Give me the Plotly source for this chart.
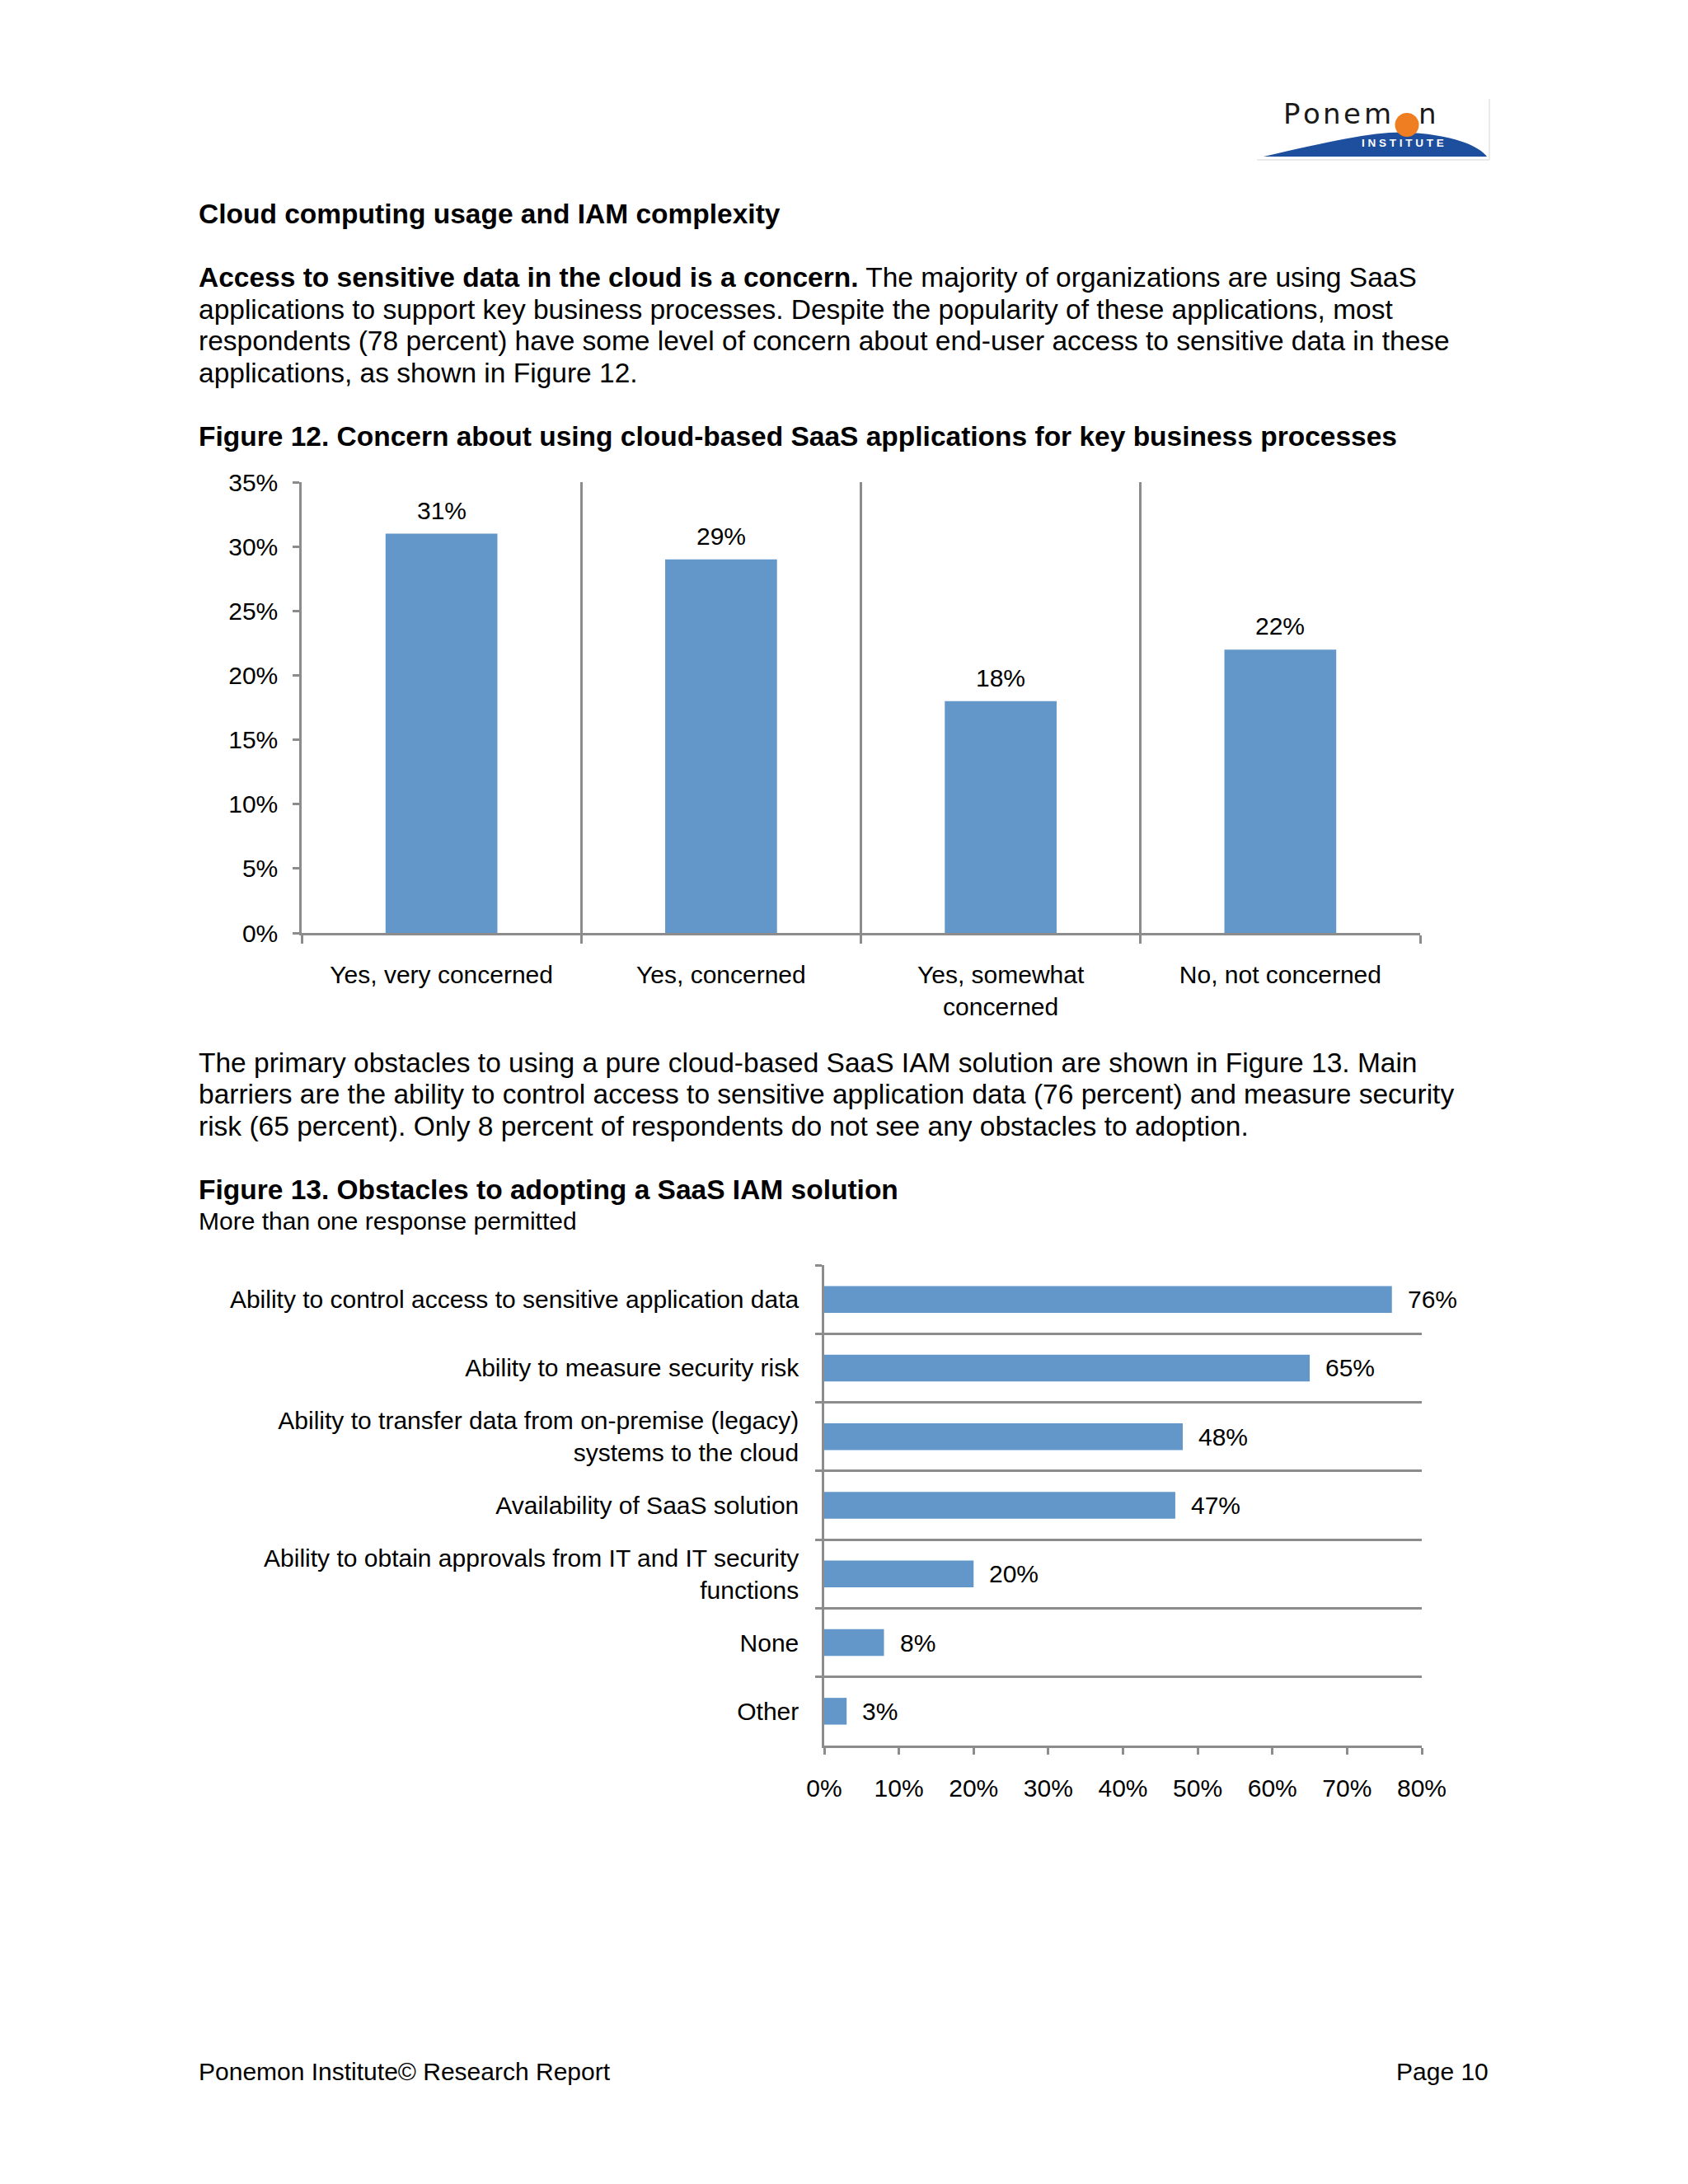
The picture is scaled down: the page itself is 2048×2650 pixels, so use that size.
import plotly.graph_objects as go

# ---------------- data ----------------
concern_cats = ["Yes, very concerned", "Yes, concerned", "Yes, somewhat<br>concerned", "No, not concerned"]
concern_vals = [31, 29, 18, 22]

obstacle_cats = [
    "Ability to control access to sensitive application data",
    "Ability to measure security risk",
    "Ability to transfer data from on-premise (legacy)<br>systems to the cloud",
    "Availability of SaaS solution",
    "Ability to obtain approvals from IT and IT security<br>functions",
    "None",
    "Other",
]
obstacle_vals = [76, 65, 48, 47, 20, 8, 3]

heading = "Cloud computing usage and IAM complexity"
para1 = [
    "<b>Access to sensitive data in the cloud is a concern.</b> The majority of organizations are using SaaS",
    "applications to support key business processes. Despite the popularity of these applications, most",
    "respondents (78 percent) have some level of concern about end-user access to sensitive data in these",
    "applications, as shown in Figure 12.",
]
fig12_title = "<b>Figure 12. Concern about using cloud-based SaaS applications for key business processes</b>"
para2 = [
    "The primary obstacles to using a pure cloud-based SaaS IAM solution are shown in Figure 13. Main",
    "barriers are the ability to control access to sensitive application data (76 percent) and measure security",
    "risk (65 percent). Only 8 percent of respondents do not see any obstacles to adoption.",
]
fig13_title = "<b>Figure 13. Obstacles to adopting a SaaS IAM solution</b>"
fig13_sub = "More than one response permitted"
footer_left = "Ponemon Institute© Research Report"
footer_right = "Page 10"
logo_word = ["P", "o", "n", "e", "m"]

# ---------------- style ----------------
W, H = 2048, 2650
FONT = "Liberation Sans, Arial, sans-serif"
LOGO_FONT = "DejaVu Sans, Verdana, sans-serif"
BAR = "#6397C9"
GRID = "#8C8C8C"
BODY = 33.5
CHART = 30


def px(x):
    return x / W


def py(y):
    return 1 - y / H


fig = go.Figure()

fig.add_trace(go.Bar(x=concern_cats, y=concern_vals, marker_color=BAR, width=0.4,
                     xaxis="x", yaxis="y", hoverinfo="skip"))
fig.add_trace(go.Bar(x=obstacle_vals, y=obstacle_cats, orientation="h", marker_color=BAR,
                     width=0.39, xaxis="x2", yaxis="y2", hoverinfo="skip"))

axis_common = dict(linecolor=GRID, linewidth=2.5, tickcolor=GRID, tickwidth=2.5,
                   tickfont=dict(family=FONT, size=CHART, color="#000"), zeroline=False,
                   automargin=False)

fig.update_layout(
    template="none",
    width=W, height=H, autosize=False, margin=dict(l=0, r=0, t=0, b=0, pad=0),
    paper_bgcolor="white", plot_bgcolor="white", showlegend=False,
    font=dict(family=FONT, color="#000"),
    xaxis=dict(domain=[px(366), px(1723)], anchor="y", type="category",
               categoryorder="array", categoryarray=concern_cats,
               tickson="boundaries", ticks="outside", ticklen=10,
               showgrid=True, gridcolor=GRID, gridwidth=2.5,
               showline=True, ticklabelstandoff=22, **axis_common),
    yaxis=dict(domain=[py(1132), py(585)], anchor="x", range=[0, 35], dtick=5,
               ticksuffix="%", ticks="outside", ticklen=8, showgrid=False,
               showline=True, ticklabelstandoff=12, **axis_common),
    xaxis2=dict(domain=[px(1000), px(1725)], anchor="y2", range=[0, 80], dtick=10,
                ticksuffix="%", ticks="outside", ticklen=8, showgrid=False,
                showline=True, ticklabelstandoff=15, **axis_common),
    yaxis2=dict(domain=[py(2118), py(1535)], anchor="x2", type="category",
                categoryorder="array", categoryarray=obstacle_cats, autorange="reversed",
                tickson="boundaries", ticks="outside", ticklen=8,
                showgrid=True, gridcolor=GRID, gridwidth=2.5,
                showline=True, ticklabelstandoff=22, **axis_common),
)

ann = []
for c, v in zip(concern_cats, concern_vals):
    ann.append(dict(x=c, y=v, xref="x", yref="y", text=f"{v}%", showarrow=False,
                    yanchor="bottom", yshift=10, font=dict(family=FONT, size=CHART, color="#000")))
for c, v in zip(obstacle_cats, obstacle_vals):
    ann.append(dict(x=v, y=c, xref="x2", yref="y2", text=f"{v}%", showarrow=False,
                    xanchor="left", xshift=17, font=dict(family=FONT, size=CHART, color="#000")))


def text(x, y, s, size=BODY, anchor="left", color="#000", family=FONT):
    ann.append(dict(x=px(x), y=py(y), xref="paper", yref="paper", text=s, showarrow=False,
                    xanchor=anchor, yanchor="middle", font=dict(family=family, size=size, color=color)))


text(239, 260, f"<b>{heading}</b>")
for i, line in enumerate(para1):
    text(239, 337 + i * 38.4, line)
text(239, 529, fig12_title)
for i, line in enumerate(para2):
    text(239, 1289 + i * 38.6, line)
text(239, 1444, fig13_title)
text(239, 1481, fig13_sub, size=CHART)
text(239, 2513, footer_left, size=CHART)
text(1808, 2513, footer_right, size=CHART, anchor="right")

# ---------------- logo ----------------
shapes = []


def path_px(pts):
    s = f"M {px(pts[0][0])},{py(pts[0][1])} "
    s += "C " + " ".join(f"{px(a)},{py(b)}" for a, b in pts[1:4]) + " "
    s += "C " + " ".join(f"{px(a)},{py(b)}" for a, b in pts[4:7]) + " Z"
    return s


shapes.append(dict(type="path", xref="paper", yref="paper",
                   path=path_px([(1533, 190), (1620, 170), (1675, 158), (1712, 161),
                                 (1760, 164), (1792, 175), (1804, 190)]),
                   fillcolor="#1E4E9E", line=dict(width=0), layer="below"))
shapes.append(dict(type="circle", xref="paper", yref="paper",
                   x0=px(1692.5), x1=px(1721.5), y0=py(166), y1=py(137),
                   fillcolor="#EF7D22", line=dict(width=0)))
shapes.append(dict(type="line", xref="paper", yref="paper", x0=px(1525), x1=px(1807),
                   y0=py(194), y1=py(194), line=dict(color="#E3E3E3", width=1.5)))
shapes.append(dict(type="line", xref="paper", yref="paper", x0=px(1807), x1=px(1807),
                   y0=py(120), y1=py(194), line=dict(color="#E3E3E3", width=1.5)))

LOGO = 34
letter_w = {"P": 0.603, "o": 0.612, "n": 0.634, "e": 0.615, "m": 0.974}
lx = 1555
for ch in logo_word:
    text(lx, 138, ch, size=LOGO, anchor="left", color="#1A1A1A", family=LOGO_FONT)
    lx += letter_w[ch] * LOGO + 3.5
text(1719, 138, "n", size=LOGO, anchor="left", color="#1A1A1A", family=LOGO_FONT)
text(1701.5, 173.5, "<b>I N S T I T U T E</b>", size=13.5, anchor="center", color="white")

fig.update_layout(annotations=ann, shapes=shapes)

fig.write_html("out.html", config={"displayModeBar": False, "responsive": False},
               post_script="document.body.style.margin='0';")
